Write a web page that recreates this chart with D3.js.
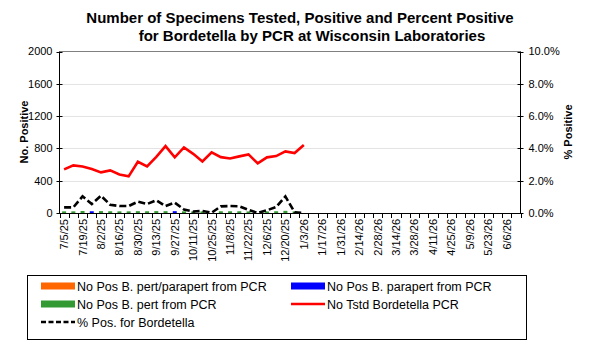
<!DOCTYPE html>
<html>
<head>
<meta charset="utf-8">
<script src="https://cdn.jsdelivr.net/npm/d3@7"></script>
<style>
  body { margin: 0; background: #fff; }
  svg { display: block; font-family: "Liberation Sans", Arial, sans-serif; }
</style>
</head>
<body>
<svg id="chart"></svg>
<script>
// weekly categories (week ending)
let weeks = ["7/5/25", "7/12/25", "7/19/25", "7/26/25", "8/2/25", "8/9/25", "8/16/25", "8/23/25",
    "8/30/25", "9/6/25", "9/13/25", "9/20/25", "9/27/25", "10/4/25", "10/11/25", "10/18/25",
    "10/25/25", "11/1/25", "11/8/25", "11/15/25", "11/22/25", "11/29/25", "12/6/25", "12/13/25",
    "12/20/25", "12/27/25", "1/3/26", "1/10/26", "1/17/26", "1/24/26", "1/31/26", "2/7/26",
    "2/14/26", "2/21/26", "2/28/26", "3/7/26", "3/14/26", "3/21/26", "3/28/26", "4/4/26",
    "4/11/26", "4/18/26", "4/25/26", "5/2/26", "5/9/26", "5/16/26", "5/23/26", "5/30/26",
    "6/6/26", "6/13/26"];

// No Tstd Bordetella PCR
let tested = [540, 590, 577, 544, 503, 528, 478, 454, 634, 577, 696, 828, 689, 812, 733, 639,
    750, 692, 676, 701, 726, 614, 689, 705, 763, 742, 841];

// % Pos. for Bordetella
let pctPos = [0.35, 0.35, 1.03, 0.56, 1.07, 0.51, 0.43, 0.43, 0.70, 0.56, 0.79, 0.43, 0.64, 0.22,
    0.09, 0.13, 0.02, 0.41, 0.43, 0.41, 0.19, 0.0, 0.17, 0.37, 1.03, 0.04, 0.0];

// positives by organism
let posBoth = [0, 0, 0, 0, 0, 0, 0, 0, 0, 0, 0, 0, 0, 0, 0, 0, 0, 0, 0, 0, 0, 0, 0, 0, 0, 0, 0];
let posPara = [0, 0, 0, 3, 0, 0, 0, 0, 0, 0, 0, 0, 4, 0, 0, 0, 0, 0, 0, 0, 0, 0, 0, 0, 0, 0, 0];
let posPert = [2, 2, 6, 0, 5, 3, 2, 2, 4, 3, 5, 4, 0, 2, 1, 1, 0, 3, 3, 3, 1, 0, 1, 3, 8, 1, 0];

let leftTicks = [0, 400, 800, 1200, 1600, 2000];
let rightTicks = [0, 2, 4, 6, 8, 10];

let width = 590,
    height = 343;

let colour = {
    both: '#ff6600',
    para: '#0000ff',
    pert: '#339933',
    tested: '#ff0000',
    pct: '#000000'
};

let x0 = 59.5, x1 = 520.5, y0 = 51.5, y1 = 213;

let svg = d3.select("#chart")
    .attr("width", width)
    .attr("height", height);

let x = d3.scaleBand().domain(weeks).range([x0, x1]).padding(0);
let yL = d3.scaleLinear().domain([0, 2000]).range([y1, y0]);
let yR = d3.scaleLinear().domain([0, 10]).range([y1, y0]);
let cx = (i) => x(weeks[i]) + x.bandwidth() / 2;

// title
svg.append("text").attr("x", 300).attr("y", 22.5)
    .attr("text-anchor", "middle").attr("font-size", 15).attr("font-weight", "bold")
    .text("Number of Specimens Tested, Positive and Percent Positive");
svg.append("text").attr("x", 312).attr("y", 41)
    .attr("text-anchor", "middle").attr("font-size", 15).attr("font-weight", "bold")
    .text("for Bordetella by PCR at Wisconsin Laboratories");

// gridlines
svg.append("g").selectAll("line")
    .data(leftTicks.slice(1, -1))
    .enter().append("line")
    .attr("x1", x0).attr("x2", x1)
    .attr("y1", d => Math.round(yL(d)) + 0.5).attr("y2", d => Math.round(yL(d)) + 0.5)
    .attr("stroke", "#e3e3e3");

// top border
svg.append("line").attr("x1", x0).attr("x2", x1).attr("y1", y0).attr("y2", y0)
    .attr("stroke", "#808080");

// bars (overlapping, drawn in series order)
let barW = 4;
[["both", posBoth], ["para", posPara], ["pert", posPert]].forEach(([key, vals]) => {
    svg.append("g").selectAll("rect")
        .data(vals.map((v, i) => ({v, i})).filter(d => d.v > 0))
        .enter().append("rect")
        .attr("x", d => cx(d.i) - barW / 2)
        .attr("width", barW)
        .attr("y", d => yL(d.v) - 1.5)
        .attr("height", d => y1 - yL(d.v) + 1.5)
        .attr("fill", colour[key]);
});

// tested line
svg.append("path")
    .datum(tested)
    .attr("fill", "none")
    .attr("stroke", colour.tested)
    .attr("stroke-width", 2.6)
    .attr("d", d3.line().x((d, i) => cx(i)).y(d => yL(d)));

// percent positive line
svg.append("path")
    .datum(pctPos)
    .attr("fill", "none")
    .attr("stroke", colour.pct)
    .attr("stroke-width", 2.6)
    .attr("stroke-dasharray", "7,3")
    .attr("d", d3.line().x((d, i) => cx(i)).y(d => yR(d)));

// left axis
let gL = svg.append("g").attr("transform", "translate(" + x0 + ",0)");
gL.append("line").attr("y1", y0).attr("y2", y1).attr("stroke", "#000");
gL.selectAll(".t").data(leftTicks).enter().append("line")
    .attr("x1", -3).attr("x2", 3)
    .attr("y1", d => Math.round(yL(d)) + 0.5).attr("y2", d => Math.round(yL(d)) + 0.5)
    .attr("stroke", "#000");
gL.selectAll("text").data(leftTicks).enter().append("text")
    .attr("x", -7).attr("y", d => yL(d)).attr("dy", "0.36em")
    .attr("text-anchor", "end").attr("font-size", 11)
    .text(d => d);

// right axis
let gR = svg.append("g").attr("transform", "translate(" + x1 + ",0)");
gR.append("line").attr("y1", y0).attr("y2", y1).attr("stroke", "#000");
gR.selectAll(".t").data(rightTicks).enter().append("line")
    .attr("x1", -3).attr("x2", 3)
    .attr("y1", d => Math.round(yR(d)) + 0.5).attr("y2", d => Math.round(yR(d)) + 0.5)
    .attr("stroke", "#000");
gR.selectAll("text").data(rightTicks).enter().append("text")
    .attr("x", 8).attr("y", d => yR(d)).attr("dy", "0.36em")
    .attr("font-size", 11)
    .text(d => d3.format(".1f")(d) + "%");

// bottom axis
let gB = svg.append("g");
gB.append("line").attr("x1", x0).attr("x2", x1).attr("y1", y1 + 0.5).attr("y2", y1 + 0.5)
    .attr("stroke", "#000");
gB.selectAll(".t").data(weeks.concat([null])).enter().append("line")
    .attr("x1", (d, i) => Math.round(x0 + i * x.bandwidth()) + 0.5)
    .attr("x2", (d, i) => Math.round(x0 + i * x.bandwidth()) + 0.5)
    .attr("y1", y1).attr("y2", y1 + 5)
    .attr("stroke", "#000");
gB.selectAll("text").data(weeks.filter((d, i) => i % 2 === 0)).enter().append("text")
    .attr("transform", d => "translate(" + (x(d) + x.bandwidth() / 2) + "," + (y1 + 6) + ") rotate(-90)")
    .attr("dy", "0.36em")
    .attr("text-anchor", "end").attr("font-size", 11)
    .text(d => d);

// axis titles
svg.append("text")
    .attr("transform", "translate(24,132) rotate(-90)")
    .attr("dy", "0.36em").attr("text-anchor", "middle")
    .attr("font-size", 11).attr("font-weight", "bold")
    .text("No. Positive");
svg.append("text")
    .attr("transform", "translate(568,132) rotate(-90)")
    .attr("dy", "0.36em").attr("text-anchor", "middle")
    .attr("font-size", 11).attr("font-weight", "bold")
    .text("% Positive");

// legend
let legend = svg.append("g");
legend.append("rect").attr("x", 27.5).attr("y", 275.5).attr("width", 499).attr("height", 64)
    .attr("fill", "#fff").attr("stroke", "#000");

let legendItems = [
    {label: "No Pos B. pert/parapert from PCR", c: colour.both, type: "bar", lx: 41, ly: 286},
    {label: "No Pos B. parapert from PCR", c: colour.para, type: "bar", lx: 291, ly: 286},
    {label: "No Pos B. pert from PCR", c: colour.pert, type: "bar", lx: 41, ly: 304},
    {label: "No Tstd Bordetella PCR", c: colour.tested, type: "line", lx: 291, ly: 304},
    {label: "% Pos. for Bordetella", c: colour.pct, type: "dash", lx: 41, ly: 322}
];

let li = legend.selectAll(".item").data(legendItems).enter().append("g");
li.each(function (d) {
    let g = d3.select(this);
    if (d.type === "bar") {
        g.append("rect").attr("x", d.lx).attr("y", d.ly - 3.5).attr("width", 34).attr("height", 7)
            .attr("fill", d.c);
    } else {
        g.append("line").attr("x1", d.lx).attr("x2", d.lx + 34).attr("y1", d.ly).attr("y2", d.ly)
            .attr("stroke", d.c).attr("stroke-width", 2.6)
            .attr("stroke-dasharray", d.type === "dash" ? "5,2.5" : null);
    }
    g.append("text").attr("x", d.lx + 36).attr("y", d.ly).attr("dy", "0.36em")
        .attr("font-size", 12.5).text(d.label);
});
</script>
</body>
</html>
